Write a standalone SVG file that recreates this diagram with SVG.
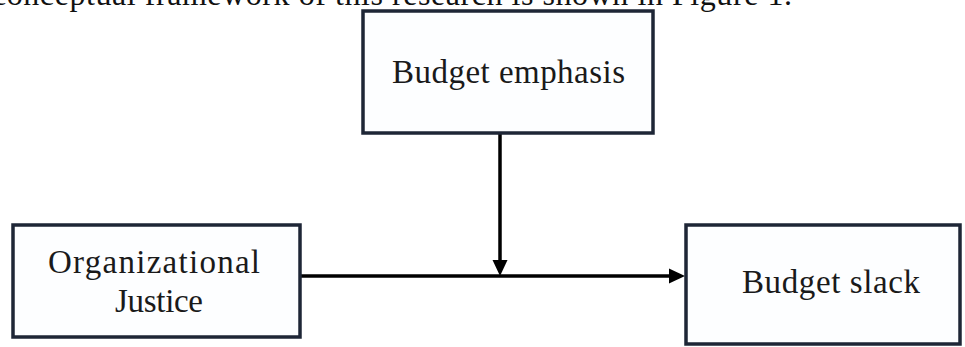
<svg xmlns="http://www.w3.org/2000/svg" width="965" height="347" viewBox="0 0 965 347">
<style>
  .box { fill: #fdfeff; stroke: #1e2636; stroke-width: 3.5; }
  .lbl { font-family: "Liberation Serif", "DejaVu Serif", serif; font-size: 33px; fill: #1a1a1a; }
  .top { font-family: "Liberation Serif", "DejaVu Serif", serif; font-size: 32px; fill: #111; }
  .conn { stroke: #000; stroke-width: 3.5; fill: none; }
  .head { fill: #000; }
</style>
<rect width="965" height="347" fill="#ffffff"/>
<text class="top" x="-8" y="5" textLength="800" lengthAdjust="spacing">conceptual framework of this research is shown in Figure 1.</text>
<g id="connectors">
  <line class="conn" x1="300" y1="276" x2="670" y2="276"/>
  <polygon class="head" points="685,276 669,268.5 669,283.5"/>
  <line class="conn" x1="500" y1="133" x2="500" y2="262"/>
  <polygon class="head" points="500,276 492.5,260 507.5,260"/>
</g>
<g id="budget-emphasis">
  <rect class="box" x="363" y="11" width="290" height="122"/>
  <text class="lbl" x="392" y="83" textLength="233" lengthAdjust="spacing">Budget emphasis</text>
</g>
<g id="organizational-justice">
  <rect class="box" x="13" y="225" width="287" height="112"/>
  <text class="lbl" x="48" y="273" textLength="212" lengthAdjust="spacing">Organizational</text>
  <text class="lbl" x="115" y="312" textLength="88" lengthAdjust="spacing">Justice</text>
</g>
<g id="budget-slack">
  <rect class="box" x="686" y="225" width="274" height="119"/>
  <text class="lbl" x="742" y="293" textLength="178" lengthAdjust="spacing">Budget slack</text>
</g>
</svg>
